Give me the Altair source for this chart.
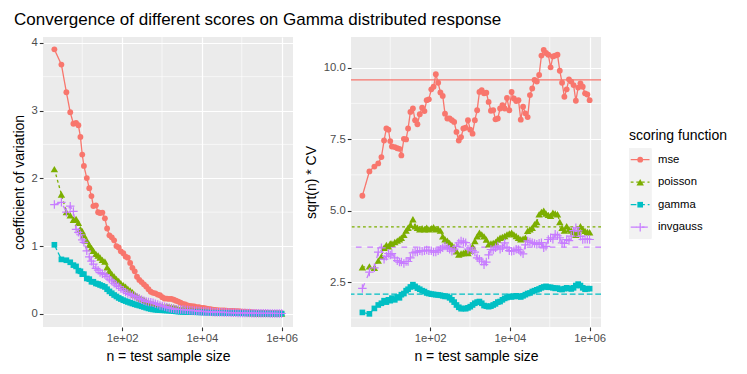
import altair as alt
import pandas as pd

FONT = "Liberation Sans"

n_values = [2, 3, 4, 5, 6, 7, 8, 9, 10, 11, 13, 15, 17, 19, 22, 25, 28, 32, 37, 42,
            48, 55, 63, 72, 82, 93, 107, 122, 139, 159, 181, 207, 236, 270, 308, 352,
            401, 458, 523, 597, 682, 779, 889, 1015, 1159, 1323, 1511, 1725, 1969, 2248,
            2567, 2931, 3346, 3820, 4362, 4980, 5686, 6492, 7412, 8462, 9665, 11035,
            12599, 14384, 16423, 18750, 21407, 24441, 27905, 31859, 36375, 41530, 47415,
            54135, 61807, 70566, 80566, 91985, 105020, 119905, 136898, 156300, 178450,
            203740, 232616, 265582, 303221, 346194, 395256, 451272, 515228, 588247,
            671613, 766795, 875470, 1000000]

# sqrt(n) * coefficient of variation
mse = [5.52, 6.37, 6.54, 6.65, 6.87, 7.45, 7.87, 7.83,
       7.43, 7.24, 7.22, 7.18, 7.16, 6.93, 7.51, 7.49, 7.87, 8.45, 8.57, 8.16, 8.02,
       8.37, 8.6, 8.48, 8.86, 8.89, 9.24, 9.33, 9.77, 9.47, 9.13, 9.01, 8.39, 8.22,
       8.22, 8.16, 8.10, 7.75, 7.45, 7.57, 7.87, 7.90, 8.16, 7.83, 7.69, 8.16, 8.51,
       9.15, 9.21, 9.10, 9.12, 8.80, 8.49, 8.51, 8.19, 8.22, 8.57, 8.69, 8.57, 8.94,
       8.51, 9.15, 8.92, 8.83, 8.86, 8.18, 8.63, 8.40, 8.27, 9.04, 9.27, 9.57, 9.51,
       9.74, 10.42, 10.62, 10.51, 10.45, 10.01, 10.39, 10.42, 10.45, 9.89, 9.47, 8.98,
       9.24, 9.59, 9.51, 9.39, 8.84, 9.30, 9.45, 9.33, 9.10, 9.06, 8.86]
poisson = [3.02, 3.05, 3.0, 3.25, 3.4, 3.7, 3.8, 3.75,
           3.85, 3.85, 3.9, 3.95, 4.0, 4.05, 4.15, 4.3, 4.4, 4.5, 4.7, 4.45, 4.4,
           4.35, 4.38, 4.35, 4.4, 4.35, 4.38, 4.42, 4.35, 4.36, 4.3, 4.1, 4.0, 3.95,
           3.87, 3.8, 3.72, 3.58, 3.46, 3.5, 3.52, 3.55, 3.52, 3.6, 3.75, 3.94, 4.1,
           4.23, 4.17, 4.1, 3.99, 3.82, 3.85, 3.87, 3.9, 3.99, 4.05, 4.08, 4.11, 4.17,
           4.2, 4.23, 4.17, 4.11, 4.05, 4.0, 4.02, 4.05, 4.29, 4.35, 4.4, 4.52, 4.6,
           4.87, 4.95, 5.0, 4.9, 4.85, 4.82, 4.93, 4.9, 4.87, 4.6, 4.4, 4.3, 4.45,
           4.35, 4.3, 4.25, 4.15, 4.25, 4.45, 4.35, 4.29, 4.25, 4.24]
gamma = [1.44, 1.39, 1.58, 1.7, 1.76, 1.85, 1.8, 1.88,
         1.85, 1.94, 1.88, 1.98, 1.95, 2.06, 2.1, 2.2, 2.25, 2.33, 2.41, 2.35, 2.29,
         2.25, 2.2, 2.17, 2.12, 2.1, 2.08, 2.07, 2.06, 2.05, 2.04, 2.02, 2.0, 2.0,
         1.95, 1.88, 1.8, 1.7, 1.62, 1.57, 1.58, 1.57, 1.6, 1.64, 1.7, 1.76, 1.8,
         1.82, 1.76, 1.68, 1.66, 1.64, 1.66, 1.7, 1.74, 1.8, 1.82, 1.88, 1.93, 1.96,
         2.0, 1.98, 2.0, 2.02, 2.0, 1.98, 2.02, 2.06, 2.1, 2.12, 2.17, 2.2, 2.23,
         2.26, 2.3, 2.33, 2.35, 2.32, 2.32, 2.3, 2.28, 2.29, 2.25, 2.24, 2.27, 2.3,
         2.28, 2.26, 2.3, 2.38, 2.43, 2.38, 2.3, 2.25, 2.27, 2.27]
invgauss = [2.28, 2.85, 3.0, 3.55, 3.7, 3.3, 3.4, 3.5,
            3.45, 3.5, 3.35, 3.25, 3.2, 3.2, 3.15, 3.22, 3.22, 3.35, 3.52, 3.55, 3.55,
            3.6, 3.58, 3.6, 3.62, 3.6, 3.6, 3.55, 3.55, 3.6, 3.65, 3.7, 3.76, 3.7,
            3.65, 3.58, 3.65, 3.75, 3.87, 3.94, 3.9, 3.88, 3.65, 3.7, 3.6, 3.55, 3.35,
            3.3, 3.23, 3.11, 3.2, 3.45, 3.64, 3.62, 3.7, 3.76, 3.65, 3.7, 3.87, 3.7,
            3.6, 3.58, 3.6, 3.65, 3.64, 3.55, 3.49, 3.8, 3.94, 3.9, 3.88, 3.85, 3.82,
            3.86, 3.88, 3.7, 3.75, 3.99, 4.05, 4.0, 4.17, 4.12, 4.05, 3.87, 3.85, 3.99,
            3.95, 4.11, 4.3, 4.4, 4.29, 4.1, 3.99, 4.0, 4.0, 3.99]

names = ["mse", "poisson", "gamma", "invgauss"]
ref_values = [9.57, 4.43, 2.08, 3.72]
colors = ["#F8766D", "#7CAE00", "#00BFC4", "#C77CFF"]
dashes = [[1, 0], [2.8, 2.8], [5.7, 2.8], [5.7, 5.7]]
PLUS = "M-1,0L1,0M0,-1L0,1"
point_styles = {
    "mse": dict(shape="circle", size=34, filled=True),
    "poisson": dict(shape="triangle-up", size=55, filled=True),
    "gamma": dict(shape="square", size=32, filled=True),
    "invgauss": dict(shape=PLUS, size=72, filled=False, strokeWidth=1.2),
}

rows = []
for name, vals in zip(names, [mse, poisson, gamma, invgauss]):
    assert len(vals) == len(n_values), (name, len(vals))
    for n, v in zip(n_values, vals):
        rows.append({"n": n, "score": name, "sqrtcv": v})
df = pd.DataFrame(rows)
ref_df = pd.DataFrame({"score": names, "sqrtcv": ref_values})

color_enc = alt.Color("score:N", scale=alt.Scale(domain=names, range=colors), legend=None)
dash_enc = alt.StrokeDash("score:N", scale=alt.Scale(domain=names, range=dashes), legend=None)

x_scale = alt.Scale(type="log", domain=[1.037, 1927500], nice=False)
x_axis = alt.Axis(values=[100, 10000, 1000000], title="n = test sample size",
                  labelExpr="replace(format(datum.value, '.0e'), '+', '+0')")
X = alt.X("n:Q", scale=x_scale, axis=x_axis)
LW = 1.3
SPACING = 58


def panel(yfield, ytitle, ydomain, yticks, yminor, yfmt, with_refs):
    y_scale = alt.Scale(domain=ydomain, nice=False, zero=False)
    base = alt.Chart(df)
    if yfield == "cv":
        base = base.transform_calculate(cv="datum.sqrtcv / sqrt(datum.n)")
    Y = alt.Y(f"{yfield}:Q", scale=y_scale,
              axis=alt.Axis(values=yticks, format=yfmt, title=ytitle))
    layers = [
        alt.Chart(pd.DataFrame({"n": [10, 1000, 100000]}))
        .mark_rule(color="white", strokeWidth=0.6).encode(x=X),
        alt.Chart(pd.DataFrame({yfield: yminor}))
        .mark_rule(color="white", strokeWidth=0.6).encode(y=Y),
        base.mark_line(strokeWidth=LW).encode(x=X, y=Y, color=color_enc,
                                              strokeDash=dash_enc),
    ]
    if with_refs:
        layers.append(
            alt.Chart(ref_df).mark_rule(strokeWidth=LW).encode(
                y=Y, color=color_enc, strokeDash=dash_enc)
        )
    for name, col in zip(names, colors):
        layers.append(
            base.transform_filter(f"datum.score == '{name}'")
            .mark_point(color=col, opacity=1, **point_styles[name])
            .encode(x=X, y=Y)
        )
    return alt.layer(*layers).properties(
        width=250, height=290,
        view=alt.ViewBackground(fill="#EBEBEB", stroke=None),
    )


left = panel("cv", "coefficient of variation", [-0.195, 4.085], [0, 1, 2, 3, 4],
             [0.5, 1.5, 2.5, 3.5], "d", False)
right = panel("sqrtcv", "sqrt(n) * CV", [0.93, 11.07], [2.5, 5.0, 7.5, 10.0],
              [1.25, 3.75, 6.25, 8.75], ".1f", True)

# legend drawn by hand, ggplot style; its view starts SPACING px right of the right panel
OX = 22 - SPACING
leg_df = pd.DataFrame({"score": names})
LY = alt.Y("score:N", scale=alt.Scale(type="point", domain=names, range=[122.7, 190.2], padding=0),
           axis=None)
leg_layers = [
    alt.Chart(leg_df).mark_rect(color="#F2F2F2").encode(
        x=alt.value(OX + 6), x2=alt.value(OX + 28.3), y=alt.value(111.5), y2=alt.value(201.5)),
    alt.Chart(leg_df).mark_rule(strokeWidth=LW).encode(
        x=alt.value(OX + 7.7), x2=alt.value(OX + 26.5), y=LY, color=color_enc, strokeDash=dash_enc),
]
for name, col in zip(names, colors):
    leg_layers.append(
        alt.Chart(leg_df).transform_filter(f"datum.score == '{name}'")
        .mark_point(color=col, opacity=1, **point_styles[name])
        .encode(x=alt.value(OX + 17.2), y=LY)
    )
leg_layers.append(
    alt.Chart(leg_df).mark_text(align="left", baseline="middle", fontSize=11.3, font=FONT,
                                color="black")
    .encode(x=alt.value(OX + 35), y=LY, text="score:N")
)
leg_layers.append(
    alt.Chart(pd.DataFrame({"t": ["scoring function"]}))
    .mark_text(align="left", baseline="middle", fontSize=14, font=FONT, color="black")
    .encode(x=alt.value(OX + 6), y=alt.value(99), text="t:N")
)
legend = alt.layer(*leg_layers).properties(
    width=60, height=290, view=alt.ViewBackground(fill=None, stroke=None))

chart = alt.hconcat(left, right, legend, spacing=SPACING, bounds="flush").properties(
    title=alt.TitleParams("Convergence of different scores on Gamma distributed response",
                          anchor="start", fontSize=17, font=FONT, fontWeight="normal",
                          color="black", offset=8, dx=2),
    padding={"left": 4, "top": 2, "right": 0, "bottom": 0},
).configure_view(stroke=None).configure_axis(
    grid=True, gridColor="white", gridWidth=1.2, domain=False,
    tickColor="#333333", tickSize=3.7, tickWidth=1.1,
    labelColor="#4D4D4D", labelFontSize=11.3, labelFont=FONT, labelPadding=2,
    titleColor="black", titleFontSize=14, titleFont=FONT, titleFontWeight="normal",
    titlePadding=5,
)

chart.save("out.html", embed_options={"renderer": "svg", "actions": False})
